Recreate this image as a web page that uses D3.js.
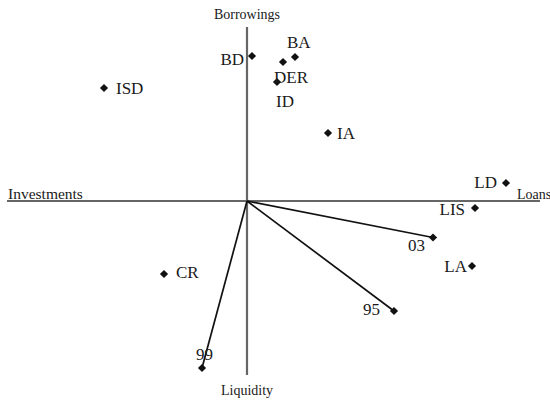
<!DOCTYPE html>
<html>
<head>
<meta charset="utf-8">
<script src="https://cdn.jsdelivr.net/npm/d3@7"></script>
<style>
  html, body { margin: 0; padding: 0; background: #fff; }
  svg { display: block; }
  text { font-family: "Liberation Serif", "Times New Roman", serif; fill: #1a1a1a; }
</style>
</head>
<body>
<svg id="chart" width="550" height="400"></svg>
<script>
// Variable coordinates on the two principal dimensions
const variables = ["BD", "BA", "DER", "ID", "ISD", "IA", "LD", "LIS", "LA", "CR"];
const variableX = [0.05, 0.48, 0.36, 0.30, -1.43, 0.81, 2.59, 2.28, 2.25, -0.83];
const variableY = [1.45, 1.44, 1.39, 1.19, 1.13, 0.68, 0.18, -0.07, -0.65, -0.73];

// Year vectors drawn from the origin
const years = ["03", "95", "99"];
const yearX = [1.86, 1.47, -0.45];
const yearY = [-0.365, -1.10, -1.67];

// Axis names: top, bottom, left, right
const axisNames = ["Borrowings", "Liquidity", "Investments", "Loans"];

// Label placement relative to each marker: [anchor, dx, dy]
const labelPlacement = {
  BD: ["end", -8, 9], BA: ["start", -8, -9], DER: ["start", -9, 21], ID: ["start", -1, 25],
  ISD: ["start", 12, 6], IA: ["start", 9, 5.5], LD: ["end", -9, 5], LIS: ["end", -10, 7],
  LA: ["end", -5, 6], CR: ["start", 12, 4],
  "03": ["end", -8, 13.5], "95": ["end", -14, 4], "99": ["start", -6, -8]
};

const svg = d3.select("#chart");
const x = d3.scaleLinear().domain([-2.4, 2.93]).range([7, 540]);
const y = d3.scaleLinear().domain([-1.74, 1.74]).range([375, 27]);

// Cross-shaped axes through the origin
const axes = svg.append("g").attr("stroke", "#666").attr("stroke-width", 2.2);
axes.append("line").attr("x1", x(-2.4)).attr("x2", x(2.93)).attr("y1", y(0)).attr("y2", y(0));
axes.append("line").attr("x1", x(0)).attr("x2", x(0)).attr("y1", y(1.74)).attr("y2", y(-1.74));

const axisText = svg.append("g").attr("font-size", 14).attr("fill", "#333");
axisText.append("text").attr("x", x(0)).attr("y", 19).attr("text-anchor", "middle").text(axisNames[0]);
axisText.append("text").attr("x", x(0)).attr("y", 395).attr("text-anchor", "middle").text(axisNames[1]);
axisText.append("text").attr("x", 8).attr("y", y(0) - 2).attr("font-size", 15.5).text(axisNames[2]);
axisText.append("text").attr("x", 517).attr("y", y(0) - 2).text(axisNames[3]);

// Year vectors
const yearData = years.map((name, i) => ({ name, x: yearX[i], y: yearY[i] }));
svg.append("g").selectAll("line").data(yearData).join("line")
  .attr("x1", x(0)).attr("y1", y(0))
  .attr("x2", d => x(d.x)).attr("y2", d => y(d.y))
  .attr("stroke", "#111").attr("stroke-width", 1.7);

const variableData = variables.map((name, i) => ({ name, x: variableX[i], y: variableY[i] }));
const allPoints = variableData.concat(yearData);

// Diamond markers
const diamond = d3.symbol().type(d3.symbolSquare).size(34);
svg.append("g").selectAll("path").data(allPoints).join("path")
  .attr("d", diamond)
  .attr("transform", d => `translate(${x(d.x)},${y(d.y)}) rotate(45)`)
  .attr("fill", "#111");

// Point labels
svg.append("g").attr("font-size", 17).selectAll("text").data(allPoints).join("text")
  .attr("x", d => x(d.x) + labelPlacement[d.name][1])
  .attr("y", d => y(d.y) + labelPlacement[d.name][2])
  .attr("text-anchor", d => labelPlacement[d.name][0])
  .text(d => d.name);
</script>
</body>
</html>
